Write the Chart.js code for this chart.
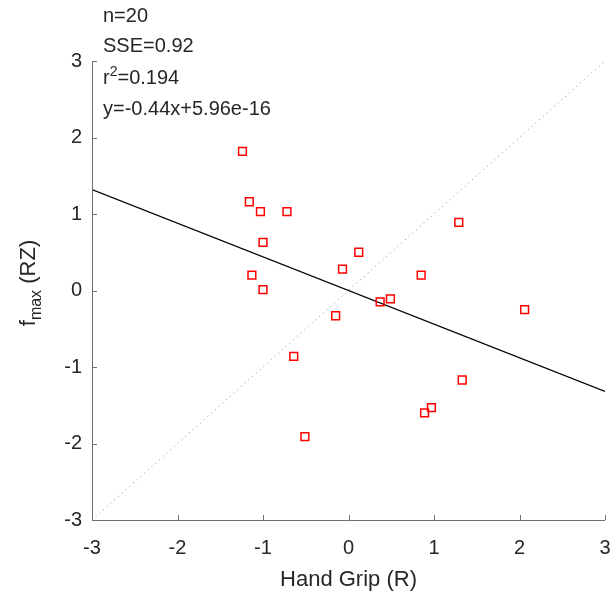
<!DOCTYPE html>
<html>
<head>
<meta charset="utf-8">
<script src="https://cdn.jsdelivr.net/npm/chart.js@4"></script>
<style>
  html, body { margin: 0; padding: 0; background: #fff; }
  #wrap { width: 612px; height: 598px; }
</style>
</head>
<body>
<div id="wrap"><canvas id="myChart" width="612" height="598"></canvas></div>
<script>
// DATA
const handGrip = [-1.24, -1.16, -1.03, -0.72, -1.0, -1.13, -1.0, 0.12, -0.07, 1.29,
  0.85, 0.37, 0.49, -0.15, 2.06, -0.64, 1.33, 0.97, 0.89, -0.51];
const fmax = [1.82, 1.16, 1.03, 1.03, 0.63, 0.2, 0.01, 0.5, 0.28, 0.89,
  0.2, -0.15, -0.11, -0.33, -0.25, -0.86, -1.17, -1.53, -1.6, -1.91];
const tickValues = [-3, -2, -1, 0, 1, 2, 3];
const slope = -0.44;
const intercept = 5.96e-16;
const statLines = ["n=20", "SSE=0.92", "r2=0.194", "y=-0.44x+5.96e-16"];

const FONT = "'Liberation Sans', Arial, sans-serif";
const TEXT = "#262626";
const AXIS = "#6e6e6e";

const points = handGrip.map((x, i) => ({ x: x, y: fmax[i] }));
const fitLine = [tickValues[0], tickValues[tickValues.length - 1]].map(x => ({ x: x, y: slope * x + intercept }));
const diagLine = [tickValues[0], tickValues[tickValues.length - 1]].map(x => ({ x: x, y: x }));

// axes with inward ticks, labels, stats text
const decor = {
  id: "decor",
  afterDraw(chart) {
    const ctx = chart.ctx;
    const xs = chart.scales.x, ys = chart.scales.y;
    const a = chart.chartArea;
    ctx.save();
    ctx.strokeStyle = AXIS;
    ctx.lineWidth = 1;
    ctx.beginPath();
    ctx.moveTo(a.left + 0.5, a.top);
    ctx.lineTo(a.left + 0.5, a.bottom + 0.5);
    ctx.lineTo(a.right, a.bottom + 0.5);
    ctx.stroke();
    ctx.beginPath();
    tickValues.forEach(v => {
      const px = Math.round(xs.getPixelForValue(v)) + 0.5;
      ctx.moveTo(px, a.bottom);
      ctx.lineTo(px, a.bottom - 5);
      const py = Math.round(ys.getPixelForValue(v)) + 0.5;
      ctx.moveTo(a.left, py);
      ctx.lineTo(a.left + 5, py);
    });
    ctx.stroke();

    // x label
    ctx.fillStyle = TEXT;
    ctx.font = "22px " + FONT;
    ctx.textAlign = "center";
    ctx.textBaseline = "alphabetic";
    ctx.fillText("Hand Grip (R)", (a.left + a.right) / 2, 586);

    // y label  f_max (RZ)
    ctx.save();
    ctx.translate(35, 283);
    ctx.rotate(-Math.PI / 2);
    ctx.textAlign = "left";
    const big = "22px " + FONT, small = "16px " + FONT;
    ctx.font = big;
    const wf = ctx.measureText("f").width;
    ctx.font = small;
    const wm = ctx.measureText("max").width;
    ctx.font = big;
    const wr = ctx.measureText(" (RZ)").width;
    let x0 = -(wf + wm + wr) / 2;
    ctx.fillText("f", x0, 0);
    ctx.font = small;
    ctx.fillText("max", x0 + wf, 6);
    ctx.font = big;
    ctx.fillText(" (RZ)", x0 + wf + wm, 0);
    ctx.restore();

    // stats text
    ctx.font = "20px " + FONT;
    ctx.textAlign = "left";
    const tx = 103;
    const ty = [22, 52, 84, 115];
    statLines.forEach((s, i) => {
      if (s.startsWith("r2")) {
        ctx.font = "20px " + FONT;
        ctx.fillText("r", tx, ty[i]);
        const w = ctx.measureText("r").width;
        ctx.font = "14px " + FONT;
        ctx.fillText("2", tx + w, ty[i] - 8);
        const w2 = ctx.measureText("2").width;
        ctx.font = "20px " + FONT;
        ctx.fillText(s.slice(2), tx + w + w2, ty[i]);
      } else {
        ctx.fillText(s, tx, ty[i]);
      }
    });
    ctx.restore();
  }
};

const config = {
  type: "scatter",
  data: {
    datasets: [
      {
        label: "data",
        data: points,
        pointStyle: "rect",
        radius: 5.5,
        borderColor: "#ff0000",
        backgroundColor: "rgba(255,255,255,0)",
        borderWidth: 1.5,
        clip: false,
        order: 0
      },
      {
        type: "line",
        label: "fit",
        data: fitLine,
        borderColor: "#000000",
        borderWidth: 1.3,
        pointRadius: 0,
        fill: false,
        order: 1
      },
      {
        type: "line",
        label: "identity",
        data: diagLine,
        borderColor: "#8a8a8a",
        borderWidth: 1,
        borderDash: [1, 4],
        pointRadius: 0,
        fill: false,
        order: 2
      }
    ]
  },
  options: {
    responsive: false,
    animation: false,
    events: [],
    layout: { padding: { top: 61, right: 6, left: 0, bottom: 0 } },
    plugins: { legend: { display: false }, tooltip: { enabled: false } },
    scales: {
      x: {
        type: "linear",
        min: -3,
        max: 3,
        afterFit: s => { s.height = 78; s.paddingLeft = 0; s.paddingRight = 0; },
        afterBuildTicks: s => { s.ticks = tickValues.map(v => ({ value: v })); },
        grid: { display: false, drawTicks: false },
        border: { display: false },
        ticks: { color: TEXT, font: { family: FONT, size: 20 }, padding: 16, maxRotation: 0 }
      },
      y: {
        type: "linear",
        min: -3,
        max: 3,
        afterFit: s => { s.width = 92; s.paddingTop = 0; s.paddingBottom = 0; },
        afterBuildTicks: s => { s.ticks = tickValues.map(v => ({ value: v })); },
        grid: { display: false, drawTicks: false },
        border: { display: false },
        ticks: { color: TEXT, font: { family: FONT, size: 20 }, padding: 10 }
      }
    }
  },
  plugins: [decor]
};

const myChart = new Chart(document.getElementById("myChart"), config);
</script>
</body>
</html>
